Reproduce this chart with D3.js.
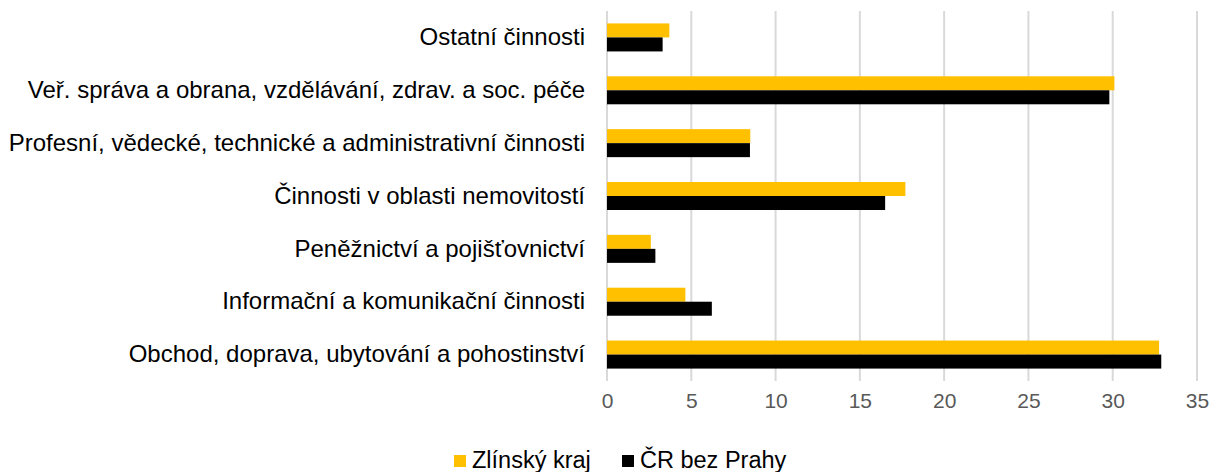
<!DOCTYPE html>
<html>
<head>
<meta charset="utf-8">
<script src="https://cdn.jsdelivr.net/npm/d3@7"></script>
<style>
  body { margin: 0; background: #fff; }
  svg { font-family: "Liberation Sans", Arial, sans-serif; }
</style>
</head>
<body>
<div id="chart"></div>
<script>
// categories, top to bottom
const categories = [
  "Ostatní činnosti",
  "Veř. správa a obrana, vzdělávání, zdrav. a soc. péče",
  "Profesní, vědecké, technické a administrativní činnosti",
  "Činnosti v oblasti nemovitostí",
  "Peněžnictví a pojišťovnictví",
  "Informační a komunikační činnosti",
  "Obchod, doprava, ubytování a pohostinství"
];
const seriesNames = ["Zlínský kraj", "ČR bez Prahy"];
const zlinsky = [3.7, 30.1, 8.5, 17.7, 2.6, 4.65, 32.75];
const crBezPrahy = [3.3, 29.8, 8.48, 16.5, 2.87, 6.22, 32.88];
const xTicks = [0, 5, 10, 15, 20, 25, 30, 35];
const colors = ["#FFC000", "#000000"];

const width = 1212, height = 472;
const margin = { top: 11, right: 15, bottom: 91, left: 607 };

const svg = d3.select("#chart")
  .append("svg")
  .attr("width", width)
  .attr("height", height);

const x = d3.scaleLinear()
  .domain([0, 35])
  .range([margin.left, width - margin.right]);

const y = d3.scaleBand()
  .domain(categories)
  .range([margin.top, height - margin.bottom])
  .paddingInner(0.47)
  .paddingOuter(0.235);

const inner = d3.scaleBand()
  .domain(seriesNames)
  .range([0, y.bandwidth()]);

// gridlines
svg.append("g")
  .selectAll("line")
  .data(xTicks)
  .join("line")
  .attr("x1", d => x(d))
  .attr("x2", d => x(d))
  .attr("y1", margin.top)
  .attr("y2", height - margin.bottom)
  .attr("stroke", "#D9D9D9")
  .attr("stroke-width", 2);

// bars
const seriesData = [zlinsky, crBezPrahy];
seriesData.forEach((vals, si) => {
  svg.append("g")
    .selectAll("rect")
    .data(vals)
    .join("rect")
    .attr("x", x(0))
    .attr("y", (d, i) => y(categories[i]) + inner(seriesNames[si]))
    .attr("width", d => x(d) - x(0))
    .attr("height", inner.bandwidth())
    .attr("fill", colors[si]);
});

// x axis tick labels
const xAxis = d3.axisBottom(x).tickValues(xTicks).tickSize(0).tickPadding(0);
const gx = svg.append("g")
  .attr("transform", `translate(0,${height - margin.bottom + 12})`)
  .call(xAxis);
gx.select(".domain").remove();
gx.selectAll("text")
  .attr("font-size", 21)
  .attr("font-family", "Liberation Sans, Arial, sans-serif")
  .attr("fill", "#595959");

// y axis labels
const yAxis = d3.axisLeft(y).tickSize(0).tickPadding(0);
const gy = svg.append("g")
  .attr("transform", `translate(585,0)`)
  .call(yAxis);
gy.select(".domain").remove();
gy.selectAll("text")
  .attr("font-size", 24)
  .attr("font-family", "Liberation Sans, Arial, sans-serif")
  .attr("fill", "#000");

// legend
const legendX = [454, 622];
const legend = svg.append("g");
seriesNames.forEach((name, i) => {
  legend.append("rect")
    .attr("x", legendX[i])
    .attr("y", 455)
    .attr("width", 12)
    .attr("height", 12)
    .attr("fill", colors[i]);
  legend.append("text")
    .attr("x", legendX[i] + 18)
    .attr("y", 468)
    .attr("font-size", 23.5)
    .attr("fill", "#000")
    .text(name);
});
</script>
</body>
</html>
